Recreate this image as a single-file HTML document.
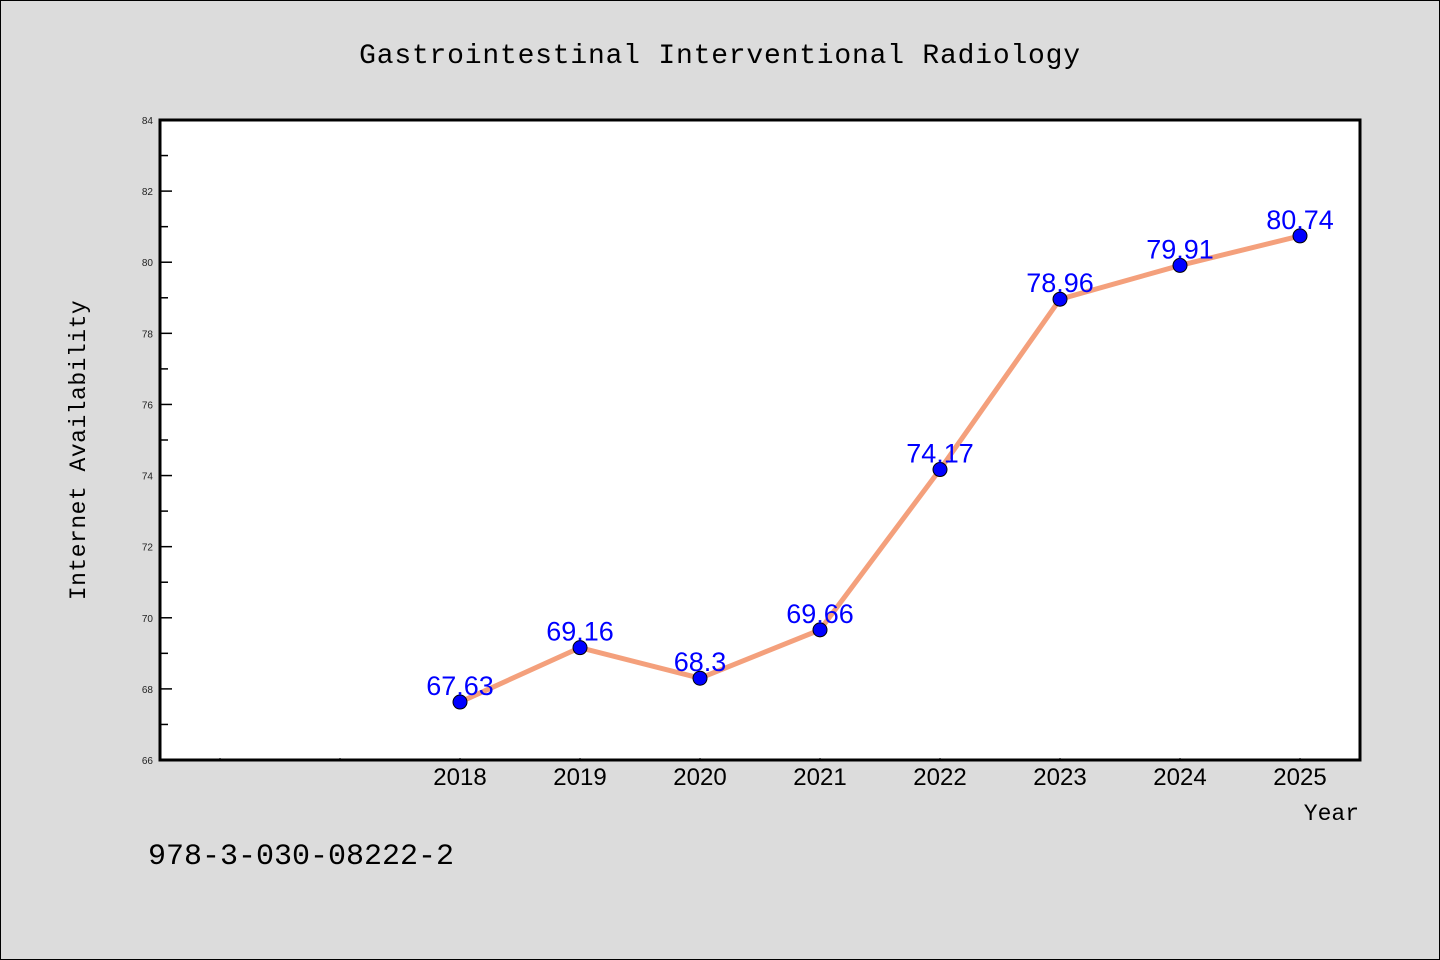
<!DOCTYPE html>
<html><head><meta charset="utf-8"><style>
html,body{margin:0;padding:0;background:#dcdcdc;}
svg{display:block;font-family:"Liberation Mono",monospace;}
</style></head><body>
<svg id="chart" width="1440" height="960" xmlns="http://www.w3.org/2000/svg">
<rect x="0.5" y="0.5" width="1439" height="959" fill="#dcdcdc" stroke="#000"/>
<text x="720" y="63" text-anchor="middle" font-size="28" letter-spacing="0.8" fill="#000">Gastrointestinal Interventional Radiology</text>
<rect x="160" y="120" width="1200" height="640" fill="#fff" stroke="#000" stroke-width="3"/>
<g id="axes"></g>
<g id="series"></g>
<text x="85" y="450" transform="rotate(-90 85 450)" text-anchor="middle" font-size="23" letter-spacing="0.5" fill="#000">Internet Availability</text>
<text x="1359" y="820" text-anchor="end" font-size="23" fill="#000">Year</text>
<text x="148" y="864" font-size="30" fill="#000">978-3-030-08222-2</text>
</svg>
<script>
const years = [2018, 2019, 2020, 2021, 2022, 2023, 2024, 2025];
const values = [67.63, 69.16, 68.3, 69.66, 74.17, 78.96, 79.91, 80.74];
const valueLabels = ["67.63", "69.16", "68.3", "69.66", "74.17", "78.96", "79.91", "80.74"];
const yTicks = [66, 68, 70, 72, 74, 76, 78, 80, 82, 84];
const xTicks = [2016, 2017, 2018, 2019, 2020, 2021, 2022, 2023, 2024, 2025];

const NS = "http://www.w3.org/2000/svg";
const X0 = 160, X1 = 1360, Y0 = 760, Y1 = 120;
const xMin = 2015.5, xMax = 2025.5, yMin = 66, yMax = 84;
function xs(v){ return X0 + (v - xMin) / (xMax - xMin) * (X1 - X0); }
function ys(v){ return Y0 - (v - yMin) / (yMax - yMin) * (Y0 - Y1); }
function mk(tag, attrs, parent){ const e = document.createElementNS(NS, tag); for (const k in attrs) e.setAttribute(k, attrs[k]); parent.appendChild(e); return e; }

const axes = document.getElementById('axes');
yTicks.forEach((t, i) => {
  const y = ys(t);
  const tk = mk('line', {x1: X0, x2: X0 + 12, y1: y, y2: y, stroke: '#000', 'stroke-width': 1.5}, axes);
  
  
  const lb = mk('text', {x: X0 - 7, y: y + 4, 'text-anchor': 'end', 'font-size': 10, 'font-family': '"Liberation Sans", sans-serif', fill: '#222'}, axes);
  lb.textContent = t;
  
  
  if (i < yTicks.length - 1) {
    const ym = ys(t + 1);
    const mn = mk('line', {x1: X0, x2: X0 + 8, y1: ym, y2: ym, stroke: '#000', 'stroke-width': 1.5}, axes);
    
    
  }
});
xTicks.forEach(t => {
  const x = xs(t);
  const tk = mk('line', {x1: x, x2: x, y1: Y0, y2: Y0 - 2, stroke: '#000', 'stroke-width': 1}, axes);
  
  
  if (years.includes(t)) {
    const lb = mk('text', {x: x, y: 785, 'text-anchor': 'middle', 'font-size': 24, 'font-family': '"Liberation Sans", sans-serif', fill: '#000'}, axes);
    lb.textContent = t;
    
    
  }
});

const series = document.getElementById('series');
const pts = years.map((yr, i) => xs(yr) + ',' + ys(values[i])).join(' ');
const line = mk('polyline', {points: pts, fill: 'none', stroke: '#f4a07c', 'stroke-width': 5, 'stroke-linejoin': 'round'}, series);


years.forEach((yr, i) => {
  const c = mk('circle', {cx: xs(yr), cy: ys(values[i]), r: 7, fill: '#0000ff', stroke: '#000', 'stroke-width': 1}, series);
  
  
});
years.forEach((yr, i) => {
  const t = mk('text', {x: xs(yr), y: ys(values[i]) - 7, 'text-anchor': 'middle', 'font-size': 27, 'font-family': '"Liberation Sans", sans-serif', fill: '#0000ff'}, series);
  t.textContent = valueLabels[i];
  
  
});
</script>
</body></html>
